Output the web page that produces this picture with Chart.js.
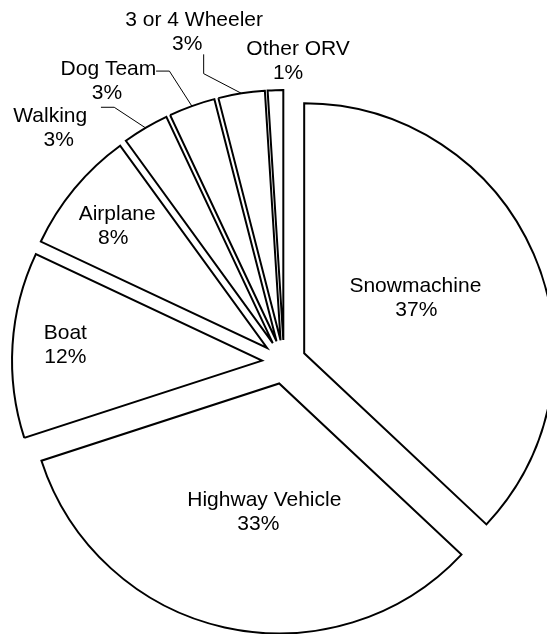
<!DOCTYPE html>
<html>
<head>
<meta charset="utf-8">
<script src="https://cdn.jsdelivr.net/npm/chart.js@4.4.1/dist/chart.umd.min.js"></script>
<style>
  html, body { margin: 0; padding: 0; background: #fff; }
  #wrap { width: 547px; height: 634px; }
</style>
</head>
<body>
<div id="wrap"><canvas id="pie"></canvas></div>
<script>
// slices, clockwise from 12 o'clock
var categories = ['Snowmachine', 'Highway Vehicle', 'Boat', 'Airplane', 'Walking', 'Dog Team', '3 or 4 Wheeler', 'Other ORV'];
var shares = [37, 33, 12, 8, 3, 3, 3, 1];

// label placement: distance as part of the radius, and turn in degrees from the slice middle
var labelRadius = [0.50, 0.51, 0.79, 0.78, 1.23, 1.245, 1.285, 1.123];
var labelTurn = [-3.8, -5.9, 1.4, -0.3, -14.7, -12.9, -6.6, 3.8];
// small sideways nudge of the name line and of the percent line
var textNudge = [[0, 1], [0, -6], [0, 0], [1, -3], [-4, 4.5], [0, -1.5], [0, -7], [5, -5]];

// leader lines: start and elbow, relative to the label centre
var leaders = {
    4: [46.7, -19.5, 60, -19.5],
    5: [47.7, -8.3, 61, -8.3],
    6: [9.5, 23.5, 9.5, 42.8]
};

var explode = 22;
var lineGap = 24;

( function() {

    // draw every slice pulled out from the centre by the same distance
    var explodePlugin = {
        id: 'explode',
        beforeDatasetDraw: function( chart, args ) {
            var ctx = chart.ctx;

            args.meta.data.forEach( function( arc ) {
                var mid = ( arc.startAngle + arc.endAngle ) / 2;

                ctx.save();
                ctx.translate( Math.cos( mid ) * explode, Math.sin( mid ) * explode );
                arc.draw( ctx );
                ctx.restore();
            } );

            return false;
        }
    };

    // category + percentage labels, with leader lines for the small ones
    var labelPlugin = {
        id: 'sliceLabels',
        afterDatasetsDraw: function( chart ) {
            var ctx = chart.ctx;
            var arcs = chart.getDatasetMeta( 0 ).data;

            ctx.save();
            ctx.font = '21px "Liberation Sans", Arial, sans-serif';
            ctx.fillStyle = '#000';
            ctx.strokeStyle = '#000';
            ctx.lineWidth = 1;
            ctx.textAlign = 'center';
            ctx.textBaseline = 'alphabetic';

            arcs.forEach( function( arc, i ) {
                var mid = ( arc.startAngle + arc.endAngle ) / 2;
                var cx = arc.x + Math.cos( mid ) * explode;
                var cy = arc.y + Math.sin( mid ) * explode;
                var a = mid + labelTurn[i] * Math.PI / 180;
                var r = labelRadius[i] * arc.outerRadius;
                var lx = cx + Math.cos( a ) * r;
                var ly = cy + Math.sin( a ) * r;

                ctx.fillText( categories[i], lx + textNudge[i][0], ly - lineGap / 2 + 7.5 );
                ctx.fillText( shares[i] + '%', lx + textNudge[i][1], ly + lineGap / 2 + 7.5 );

                var leader = leaders[i];

                if ( leader ) {
                    ctx.beginPath();
                    ctx.moveTo( lx + leader[0], ly + leader[1] );
                    ctx.lineTo( lx + leader[2], ly + leader[3] );
                    ctx.lineTo( cx + Math.cos( mid ) * arc.outerRadius, cy + Math.sin( mid ) * arc.outerRadius );
                    ctx.stroke();
                }
            } );

            ctx.restore();
        }
    };

    var config = {
        type: 'pie',
        data: {
            labels: categories,
            datasets: [ {
                data: shares,
                backgroundColor: '#ffffff',
                borderColor: '#000000',
                borderWidth: 2,
                borderJoinStyle: 'miter',
                radius: 250
            } ]
        },
        options: {
            responsive: true,
            maintainAspectRatio: false,
            animation: false,
            events: [],
            layout: {
                padding: { left: 21, right: 0, top: 90, bottom: 0 }
            },
            plugins: {
                legend: { display: false },
                tooltip: { enabled: false }
            }
        },
        plugins: [ explodePlugin, labelPlugin ]
    };

    new Chart( document.getElementById( 'pie' ), config );

} )();
</script>
</body>
</html>
